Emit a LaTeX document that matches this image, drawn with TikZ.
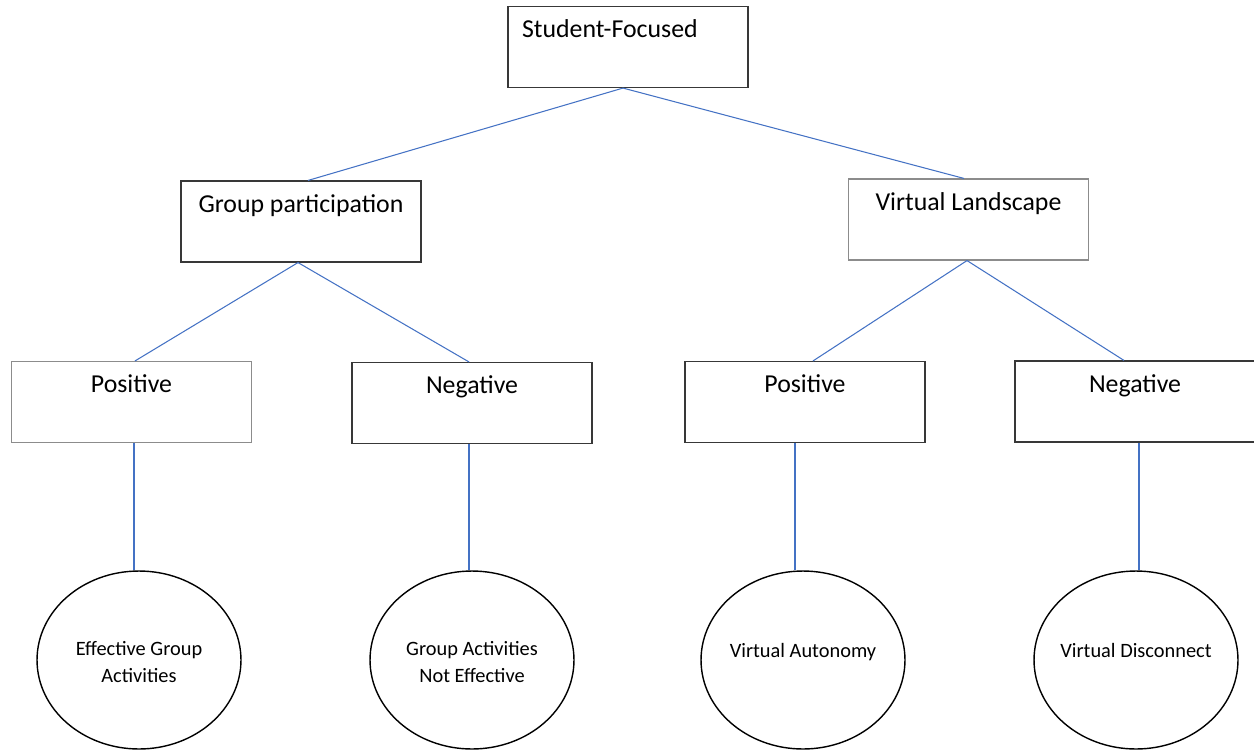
\documentclass[tikz,border=0pt]{standalone}
\usepackage{fontspec}
\setmainfont{Carlito}
\usetikzlibrary{shapes.geometric}
\definecolor{linkblue}{HTML}{4472C4}

\begin{document}
\begin{tikzpicture}[x=0.02cm, y=-0.02cm,
    box/.style={draw=black!78, line width=0.65pt, minimum width=4.8cm, inner ysep=0pt,
        text height=0.62cm, text depth=1cm, font=\fontsize{14.7}{17}\selectfont},
    palebox/.style={box, draw=black!45},
    bubble/.style={ellipse, draw=black, line width=0.8pt, minimum width=4.08cm, minimum height=3.56cm,
        inner xsep=-0.3cm, align=center, text height=0.3cm, text depth=0.42cm,
        font=\fontsize{11.6}{14.9}\selectfont},
    twoline/.style={bubble, text height=1cm, text depth=0.12cm},
    link/.style={draw=linkblue, line width=0.6pt}]
        \useasboundingbox (0,0) rectangle (1254,751);

        \node[box, text width=4.24cm, inner xsep=0.28cm, align=left] (sf) at (628,47) {Student-Focused};

        \node[box] (gp) at (301,221.5) {Group participation};
        \node[palebox] (vl) at (968.5,219.5) {Virtual Landscape};

        \node[palebox] (gpos) at (131.5,402) {Positive};
        \node[box] (gneg) at (472,403) {Negative};
        \node[box] (vpos) at (805,402) {Positive};
        \node[box] (vneg) at (1135,401.5) {Negative};

        \node[twoline] (effective) at (139,660) {Effective Group\\Activities};
        \node[twoline] (noteffective) at (472,660) {Group Activities\\Not Effective};
        \node[bubble] (autonomy) at (803,660) {Virtual Autonomy};
        \node[bubble] (disconnect) at (1136,660) {Virtual Disconnect};

        \draw[link] ([xshift=-0.1cm]sf.south) -- ([xshift=0.14cm]gp.north);
        \draw[link] ([xshift=-0.1cm]sf.south) -- ([xshift=-0.09cm]vl.north);

        \draw[link] ([xshift=-0.06cm]gp.south) -- ([xshift=0.07cm]gpos.north);
        \draw[link] ([xshift=-0.06cm]gp.south) -- ([xshift=-0.06cm]gneg.north);
        \draw[link] ([xshift=-0.03cm]vl.south) -- ([xshift=0.16cm]vpos.north);
        \draw[link] ([xshift=-0.03cm]vl.south) -- ([xshift=-0.22cm]vneg.north);

        \draw[link] ([xshift=0.05cm]gpos.south) -- ([xshift=0.05cm]gpos.south |- effective.north);
        \draw[link] ([xshift=-0.06cm]gneg.south) -- ([xshift=-0.06cm]gneg.south |- noteffective.north);
        \draw[link] ([xshift=-0.2cm]vpos.south) -- ([xshift=-0.2cm]vpos.south |- autonomy.north);
        \draw[link] ([xshift=0.08cm]vneg.south) -- ([xshift=0.08cm]vneg.south |- disconnect.north);

    \end{tikzpicture}
\end{document}
